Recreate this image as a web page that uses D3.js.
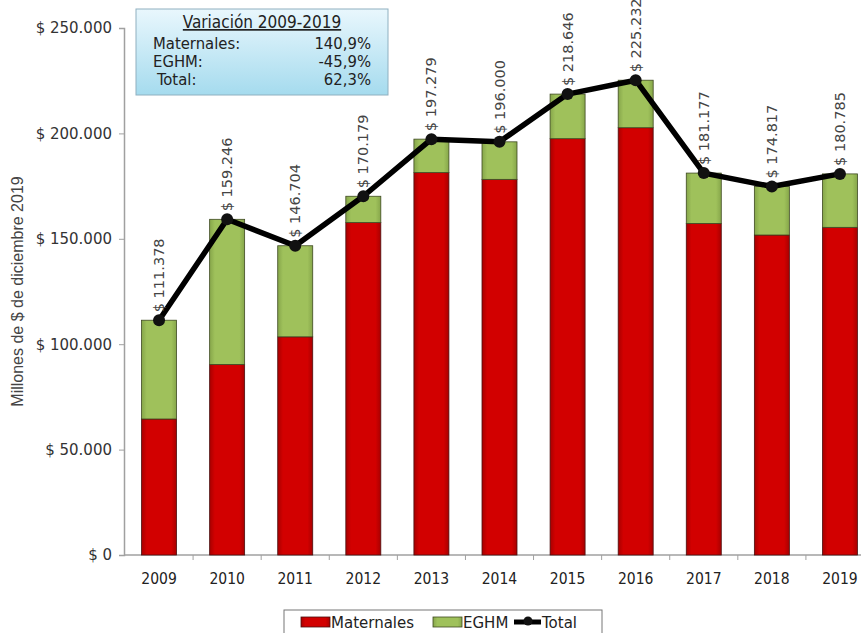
<!DOCTYPE html>
<html>
<head>
<meta charset="utf-8">
<script src="https://cdn.jsdelivr.net/npm/d3@7"></script>
<style>
  body { margin: 0; background: #fff; }
  svg { display: block; }
</style>
</head>
<body>
<svg id="chart" width="861" height="633"></svg>
<script>
const YEARS = ['2009', '2010', '2011', '2012', '2013', '2014', '2015', '2016', '2017', '2018', '2019'];
const MATERNALES = [64523, 90400, 103500, 157700, 181400, 178200, 197500, 202700, 157300, 151800, 155436];
const TOTAL = [111378, 159246, 146704, 170179, 197279, 196000, 218646, 225232, 181177, 174817, 180785];
const EGHM = TOTAL.map((t, i) => t - MATERNALES[i]);
const Y_TICKS = [0, 50000, 100000, 150000, 200000, 250000];
const VARIACION = [
  { label: 'Maternales:', value: '140,9%' },
  { label: 'EGHM:', value: '-45,9%' },
  { label: 'Total:', value: '62,3%' },
];

const locale = d3.formatLocale({ decimal: ',', thousands: '.', grouping: [3], currency: ['$ ', ''] });
const money = locale.format('$,');

const svg = d3.select('#chart');
const defs = svg.append('defs');

const boxGrad = defs.append('linearGradient')
  .attr('id', 'boxGrad').attr('x1', 0).attr('y1', 0).attr('x2', 0).attr('y2', 1);
boxGrad.append('stop').attr('offset', '0%').attr('stop-color', '#e9f7fd');
boxGrad.append('stop').attr('offset', '100%').attr('stop-color', '#a5dbee');

function barGradient(id, edge, mid) {
  const g = defs.append('linearGradient')
    .attr('id', id).attr('x1', 0).attr('y1', 0).attr('x2', 1).attr('y2', 0);
  g.append('stop').attr('offset', '0%').attr('stop-color', edge);
  g.append('stop').attr('offset', '15%').attr('stop-color', mid);
  g.append('stop').attr('offset', '85%').attr('stop-color', mid);
  g.append('stop').attr('offset', '100%').attr('stop-color', edge);
}
barGradient('redGrad', '#a80000', '#d20000');
barGradient('greenGrad', '#86a64a', '#9fc15b');

const x = d3.scaleBand()
  .domain(YEARS)
  .range([125, 874])
  .paddingInner(0.486)
  .paddingOuter(0.243);

const y = d3.scaleLinear()
  .domain([0, 250000])
  .range([555, 28]);

// eje Y
const yAxis = svg.append('g')
  .attr('transform', 'translate(124,0)')
  .call(d3.axisLeft(y).tickValues(Y_TICKS).tickFormat(money).tickSize(5).tickPadding(7));
yAxis.select('.domain').attr('stroke', '#a0a0a0').attr('stroke-width', 1.5);
yAxis.selectAll('.tick line').attr('stroke', '#a0a0a0');
yAxis.selectAll('.tick text')
  .attr('font-family', 'DejaVu Sans, Verdana, sans-serif')
  .attr('font-size', 15)
  .attr('fill', '#333');

// eje X
const step = x.step();
const bounds = d3.range(YEARS.length + 1).map((i) => 125 + i * step);
svg.append('line')
  .attr('x1', 124).attr('x2', 861)
  .attr('y1', y(0)).attr('y2', y(0))
  .attr('stroke', '#a0a0a0').attr('stroke-width', 1.5);
svg.append('g').selectAll('line')
  .data(bounds.slice(1))
  .join('line')
  .attr('x1', (d) => d).attr('x2', (d) => d)
  .attr('y1', y(0)).attr('y2', y(0) + 5)
  .attr('stroke', '#a0a0a0');
svg.append('g').selectAll('text')
  .data(YEARS)
  .join('text')
  .attr('x', (d) => x(d) + x.bandwidth() / 2)
  .attr('y', 584)
  .attr('text-anchor', 'middle')
  .attr('font-family', 'DejaVu Sans Condensed, Tahoma, sans-serif')
  .attr('font-size', 15.5)
  .attr('fill', '#222')
  .text((d) => d);

// título eje Y
svg.append('text')
  .attr('transform', `translate(23,${(y(0) + y(250000)) / 2}) rotate(-90)`)
  .attr('text-anchor', 'middle')
  .attr('font-family', 'Liberation Sans, Arial, sans-serif')
  .attr('font-size', 16)
  .attr('fill', '#444')
  .text('Millones de $ de diciembre 2019');

// barras apiladas
const bars = svg.append('g');
bars.selectAll('rect.mat')
  .data(YEARS)
  .join('rect')
  .attr('class', 'mat')
  .attr('x', (d) => x(d))
  .attr('width', x.bandwidth())
  .attr('y', (d, i) => y(MATERNALES[i]))
  .attr('height', (d, i) => y(0) - y(MATERNALES[i]))
  .attr('fill', 'url(#redGrad)')
  .attr('stroke', '#4a1010')
  .attr('stroke-width', 0.8);
bars.selectAll('rect.eghm')
  .data(YEARS)
  .join('rect')
  .attr('class', 'eghm')
  .attr('x', (d) => x(d))
  .attr('width', x.bandwidth())
  .attr('y', (d, i) => y(TOTAL[i]))
  .attr('height', (d, i) => y(MATERNALES[i]) - y(TOTAL[i]))
  .attr('fill', 'url(#greenGrad)')
  .attr('stroke', '#3f4a22')
  .attr('stroke-width', 0.8);

// línea total
const cx = (d) => x(d) + x.bandwidth() / 2;
const line = d3.line()
  .x((d) => cx(d))
  .y((d, i) => y(TOTAL[i]));
svg.append('path')
  .datum(YEARS)
  .attr('d', line)
  .attr('fill', 'none')
  .attr('stroke', '#000')
  .attr('stroke-width', 5.5)
  .attr('stroke-linejoin', 'round');
svg.append('g').selectAll('circle')
  .data(YEARS)
  .join('circle')
  .attr('cx', cx)
  .attr('cy', (d, i) => y(TOTAL[i]))
  .attr('r', 6)
  .attr('fill', '#111');

// etiquetas
svg.append('g').selectAll('text')
  .data(YEARS)
  .join('text')
  .attr('transform', (d, i) => `translate(${cx(d)},${y(TOTAL[i]) - 8}) rotate(-90)`)
  .attr('dy', '0.35em')
  .attr('font-family', 'DejaVu Sans, Verdana, sans-serif')
  .attr('font-size', 14.5)
  .attr('fill', '#444')
  .text((d, i) => money(TOTAL[i]));

// cuadro de variación
const box = svg.append('g');
box.append('rect')
  .attr('x', 136).attr('y', 9)
  .attr('width', 252).attr('height', 86)
  .attr('fill', 'url(#boxGrad)')
  .attr('stroke', '#8fb0c0')
  .attr('stroke-width', 1);
box.append('text')
  .attr('x', 262).attr('y', 28)
  .attr('text-anchor', 'middle')
  .attr('font-family', 'DejaVu Sans Condensed, Tahoma, sans-serif')
  .attr('font-size', 17)
  .attr('fill', '#222')
  .attr('text-decoration', 'underline')
  .text('Variación 2009-2019');
VARIACION.forEach((row, i) => {
  box.append('text')
    .attr('x', i === 2 ? 157 : 153).attr('y', 49 + i * 18)
    .attr('font-family', 'DejaVu Sans Condensed, Tahoma, sans-serif')
    .attr('font-size', 16.5)
    .attr('fill', '#222')
    .text(row.label);
  box.append('text')
    .attr('x', 371).attr('y', 49 + i * 18)
    .attr('text-anchor', 'end')
    .attr('font-family', 'DejaVu Sans Condensed, Tahoma, sans-serif')
    .attr('font-size', 16.5)
    .attr('fill', '#222')
    .text(row.value);
});

// leyenda
const legend = svg.append('g');
legend.append('rect')
  .attr('x', 284).attr('y', 610)
  .attr('width', 318).attr('height', 30)
  .attr('fill', '#fff')
  .attr('stroke', '#777');
legend.append('rect')
  .attr('x', 301).attr('y', 617).attr('width', 29).attr('height', 10)
  .attr('fill', 'url(#redGrad)').attr('stroke', '#4a1010').attr('stroke-width', 0.8);
legend.append('text')
  .attr('x', 331).attr('y', 628)
  .attr('font-family', 'DejaVu Sans, Verdana, sans-serif')
  .attr('font-size', 15).attr('fill', '#222')
  .text('Maternales');
legend.append('rect')
  .attr('x', 433).attr('y', 617).attr('width', 29).attr('height', 10)
  .attr('fill', 'url(#greenGrad)').attr('stroke', '#3f4a22').attr('stroke-width', 0.8);
legend.append('text')
  .attr('x', 463).attr('y', 628)
  .attr('font-family', 'DejaVu Sans, Verdana, sans-serif')
  .attr('font-size', 15).attr('fill', '#222')
  .text('EGHM');
legend.append('line')
  .attr('x1', 514).attr('x2', 541).attr('y1', 622).attr('y2', 622)
  .attr('stroke', '#000').attr('stroke-width', 5);
legend.append('circle')
  .attr('cx', 528).attr('cy', 621).attr('r', 4.5).attr('fill', '#111');
legend.append('text')
  .attr('x', 542).attr('y', 628)
  .attr('font-family', 'DejaVu Sans, Verdana, sans-serif')
  .attr('font-size', 15).attr('fill', '#222')
  .text('Total');
</script>
</body>
</html>
